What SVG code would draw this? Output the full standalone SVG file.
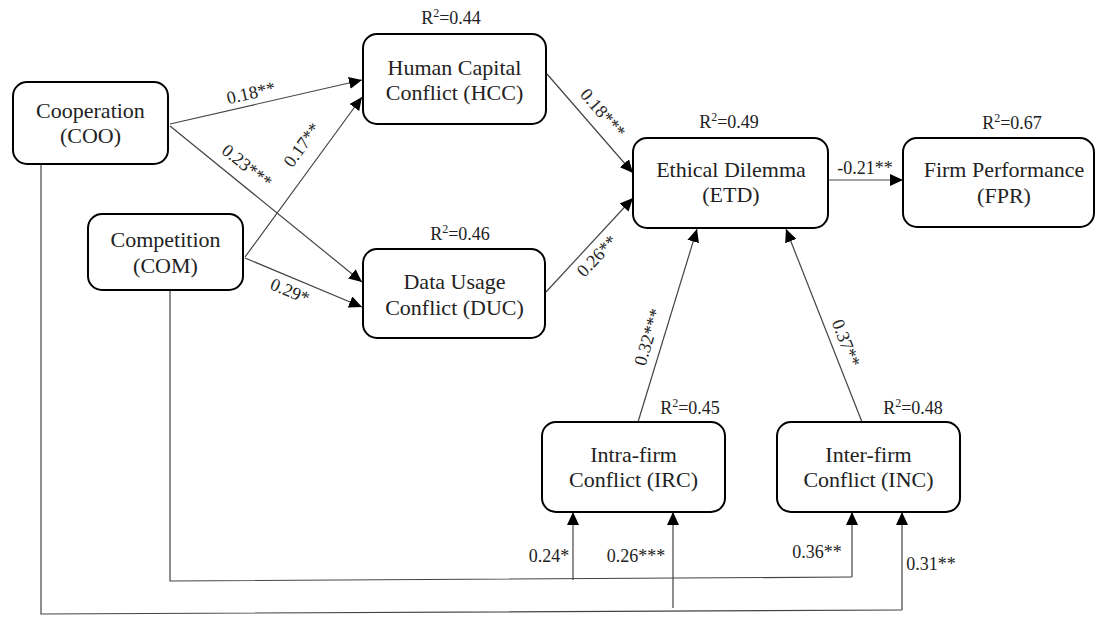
<svg xmlns="http://www.w3.org/2000/svg" width="1097" height="617" viewBox="0 0 1097 617">
<style>
.box{fill:#fff;stroke:#000;stroke-width:2}
.nt{font-family:"Liberation Serif","Times New Roman",serif;font-size:22px;fill:#222;text-anchor:middle}
.lb{font-family:"Liberation Serif","Times New Roman",serif;font-size:18px;fill:#222;text-anchor:middle}
.cn{fill:none;stroke:#444;stroke-width:1.2}
</style>
<defs>
<marker id="ah" markerUnits="userSpaceOnUse" markerWidth="13" markerHeight="12" refX="13" refY="6" orient="auto">
<path d="M0,0 L13,6 L0,12 z" fill="#000"/>
</marker>
</defs>
<rect width="1097" height="617" fill="#fff"/>
<g id="connectors">
<line class="cn" x1="170" y1="124" x2="362" y2="80" marker-end="url(#ah)"/>
<line class="cn" x1="170" y1="126" x2="362" y2="282" marker-end="url(#ah)"/>
<line class="cn" x1="245" y1="257" x2="362" y2="97" marker-end="url(#ah)"/>
<line class="cn" x1="245" y1="258" x2="362" y2="307" marker-end="url(#ah)"/>
<line class="cn" x1="547" y1="74" x2="633" y2="173" marker-end="url(#ah)"/>
<line class="cn" x1="546" y1="292" x2="633" y2="198" marker-end="url(#ah)"/>
<line class="cn" x1="828" y1="180" x2="903" y2="180" marker-end="url(#ah)"/>
<line class="cn" x1="638" y1="422" x2="697" y2="229" marker-end="url(#ah)"/>
<line class="cn" x1="862" y1="422" x2="786" y2="229" marker-end="url(#ah)"/>
<polyline class="cn" points="170,290 170,581 852,577"/>
<polyline class="cn" points="41,164 41,614 902,610"/>
<line class="cn" x1="573" y1="580" x2="573" y2="512" marker-end="url(#ah)"/>
<line class="cn" x1="673" y1="608" x2="673" y2="512" marker-end="url(#ah)"/>
<line class="cn" x1="852" y1="577" x2="852" y2="512" marker-end="url(#ah)"/>
<line class="cn" x1="902" y1="610" x2="902" y2="512" marker-end="url(#ah)"/>
<text class="lb" transform="translate(251,93) rotate(-12.9)" dy="6">0.18**</text>
<text class="lb" transform="translate(247,166) rotate(38.7)" dy="6">0.23***</text>
<text class="lb" transform="translate(302,145) rotate(-53.8)" dy="6">0.17**</text>
<text class="lb" transform="translate(290,291) rotate(22.7)" dy="6">0.29*</text>
<text class="lb" transform="translate(603,113) rotate(48.7)" dy="6">0.18***</text>
<text class="lb" transform="translate(597,256) rotate(-46.6)" dy="6">0.26**</text>
<text class="lb" transform="translate(648,337) rotate(-73)" dy="6">0.32***</text>
<text class="lb" transform="translate(846,343) rotate(68.6)" dy="6">0.37**</text>
<text class="lb" x="865" y="174">-0.21**</text>
<text class="lb" x="549" y="562">0.24*</text>
<text class="lb" x="636" y="562">0.26***</text>
<text class="lb" x="817" y="558">0.36**</text>
<text class="lb" x="931" y="570">0.31**</text>
</g>
<g id="COO">
<rect class="box" x="13" y="82" width="155" height="82" rx="14"/>
<text class="nt" x="90.5" y="118">Cooperation</text>
<text class="nt" x="90.5" y="143">(COO)</text>
</g>
<g id="COM">
<rect class="box" x="88" y="214" width="155" height="76" rx="14"/>
<text class="nt" x="165.5" y="247">Competition</text>
<text class="nt" x="165.5" y="273">(COM)</text>
</g>
<g id="HCC">
<rect class="box" x="363" y="34" width="183" height="90" rx="14"/>
<text class="nt" x="454.5" y="75">Human Capital</text>
<text class="nt" x="454.5" y="100">Conflict (HCC)</text>
<text class="lb" x="451" y="24">R<tspan font-size="12" dy="-7">2</tspan><tspan dy="7">=0.44</tspan></text>
</g>
<g id="DUC">
<rect class="box" x="363" y="249" width="182" height="89" rx="14"/>
<text class="nt" x="454.5" y="289">Data Usage</text>
<text class="nt" x="454.5" y="315">Conflict (DUC)</text>
<text class="lb" x="460" y="240">R<tspan font-size="12" dy="-7">2</tspan><tspan dy="7">=0.46</tspan></text>
</g>
<g id="ETD">
<rect class="box" x="633" y="138" width="195" height="90" rx="14"/>
<text class="nt" x="731" y="177">Ethical Dilemma</text>
<text class="nt" x="731" y="202">(ETD)</text>
<text class="lb" x="729" y="128">R<tspan font-size="12" dy="-7">2</tspan><tspan dy="7">=0.49</tspan></text>
</g>
<g id="FPR">
<rect class="box" x="903" y="138" width="191" height="89" rx="14"/>
<text class="nt" x="1004" y="177">Firm Performance</text>
<text class="nt" x="1004" y="203">(FPR)</text>
<text class="lb" x="1012" y="129">R<tspan font-size="12" dy="-7">2</tspan><tspan dy="7">=0.67</tspan></text>
</g>
<g id="IRC">
<rect class="box" x="542" y="422" width="183" height="90" rx="14"/>
<text class="nt" x="633.5" y="462">Intra-firm</text>
<text class="nt" x="633.5" y="487">Conflict (IRC)</text>
<text class="lb" x="690" y="414">R<tspan font-size="12" dy="-7">2</tspan><tspan dy="7">=0.45</tspan></text>
</g>
<g id="INC">
<rect class="box" x="777" y="422" width="183" height="90" rx="14"/>
<text class="nt" x="868.5" y="462">Inter-firm</text>
<text class="nt" x="868.5" y="487">Conflict (INC)</text>
<text class="lb" x="913" y="414">R<tspan font-size="12" dy="-7">2</tspan><tspan dy="7">=0.48</tspan></text>
</g>
</svg>
